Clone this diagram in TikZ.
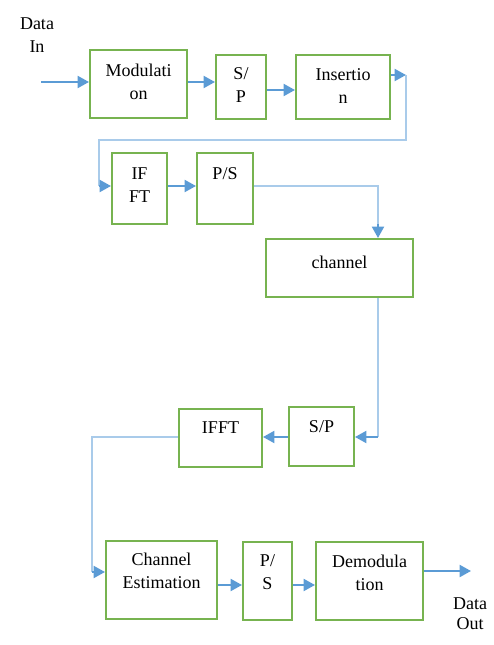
\documentclass[tikz,border=0pt]{standalone}
\usepackage{fontspec}
\setmainfont{Liberation Serif}
\usetikzlibrary{arrows.meta}
\definecolor{boxgreen}{HTML}{77B350}
\definecolor{arrblue}{HTML}{5B9BD5}
\definecolor{lineblue}{HTML}{A9CBEA}
\tikzset{
  box/.style={draw=boxgreen, line width=1.5pt, fill=white, inner sep=0pt},
  lbl/.style={align=center, inner sep=0pt, font=\fontsize{13.5pt}{17.25pt}\selectfont},
  arr/.style={draw=arrblue, line width=1.4pt, -{Triangle[length=8.5pt,width=9pt]}},
  thinline/.style={draw=lineblue, line width=0.9pt},
}
\begin{document}
\begin{tikzpicture}[x=0.75pt,y=-0.75pt]
\useasboundingbox (0,0) rectangle (493,645);
% boxes
\node[box, minimum width=72.75pt, minimum height=51pt] (mod) at (138.5,84) {};
\node[box, minimum width=37.5pt, minimum height=48pt] (sp1) at (241,87) {};
\node[box, minimum width=70.5pt, minimum height=48pt] (ins) at (343,87) {};
\node[box, minimum width=41.25pt, minimum height=53.25pt] (ifft1) at (139.5,188.5) {};
\node[box, minimum width=42pt, minimum height=53.25pt] (ps1) at (225,188.5) {};
\node[box, minimum width=110.25pt, minimum height=43.5pt] (chan) at (339.5,268) {};
\node[box, minimum width=48.75pt, minimum height=44.25pt] (sp2) at (321.5,436.5) {};
\node[box, minimum width=62.25pt, minimum height=43.5pt] (ifft2) at (220.5,438) {};
\node[box, minimum width=83.25pt, minimum height=58.5pt] (ce) at (161.5,580) {};
\node[box, minimum width=36.75pt, minimum height=58.5pt] (ps3) at (267.5,581) {};
\node[box, minimum width=80.25pt, minimum height=58.5pt] (dem) at (369.5,581) {};
% texts
\node[lbl] (modT) at (138.5,81.5) {Modulati\\on};
\node[lbl] (sp1T) at (241,85) {S/\\P};
\node[lbl] (insT) at (343,86) {Insertio\\n};
\node[lbl] (ifft1T) at (139.5,185) {IF\\FT};
\node[lbl] (ps1T) at (225,185) {P/S\\\phantom{P}};
\node[lbl] (chanT) at (339.5,262) {channel};
\node[lbl] (sp2T) at (321.5,427) {S/P};
\node[lbl] (ifft2T) at (220.5,428) {IFFT};
\node[lbl] (ceT) at (161.5,571) {Channel\\Estimation};
\node[lbl] (ps3T) at (267.5,572) {P/\\S};
\node[lbl] (demT) at (369.5,573) {Demodula\\tion};
\node[lbl] (dinT) at (37,35) {Data\\In};
\node[lbl, font=\fontsize{13.5pt}{15pt}\selectfont] (doutT) at (470,614) {Data\\Out};
% coordinates
\coordinate (din) at (41,82);
\coordinate (c1) at (406,75);
\coordinate (c2) at (406,140);
\coordinate (c3) at (99,140);
\coordinate (c4) at (99,186);
\coordinate (c5) at (378,186);
\coordinate (c6) at (378,224);
\coordinate (c7) at (378,437);
\coordinate (c8) at (92,437);
\coordinate (c9) at (92,572);
\coordinate (dout) at (471,571);
% connectors
\draw[arr] (din) -- (mod.west |- din);
\draw[arr] (mod.east |- din) -- (sp1.west |- din);
\draw[arr] ([yshift=-2.25pt]sp1.east) -- ([yshift=-2.25pt]ins.west);
\draw[arr] (ins.east |- c1) -- (c1);
\draw[thinline] (c1) -- (c2) -- (c3) -- (c4);
\draw[arr] (c4) -- (ifft1.west |- c4);
\draw[arr] (ifft1.east |- c4) -- (ps1.west |- c4);
\draw[thinline] (ps1.east |- c5) -- (c5) -- (c6);
\draw[arr] (c6) -- (chan.north -| c6);
\draw[thinline] (chan.south -| c7) -- (c7);
\draw[arr] (c7) -- (sp2.east |- c7);
\draw[arr] (sp2.west |- c7) -- (ifft2.east |- c7);
\draw[thinline] (ifft2.west |- c8) -- (c8) -- (c9);
\draw[arr] (c9) -- (ce.west |- c9);
\draw[arr] ([yshift=-3.75pt]ce.east) -- ([yshift=-3pt]ps3.west);
\draw[arr] ([yshift=-3pt]ps3.east) -- ([yshift=-3pt]dem.west);
\draw[arr] (dem.east |- dout) -- (dout);
\end{tikzpicture}
\end{document}
